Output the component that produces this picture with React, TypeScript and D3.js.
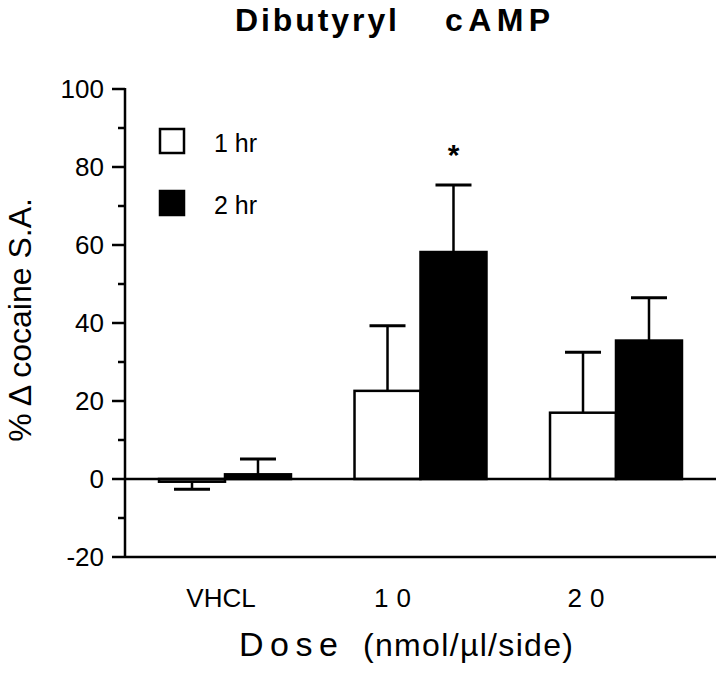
import React from "react";
import * as d3 from "d3";

const categories = ["VHCL", "10", "20"];
const seriesNames = ["1 hr", "2 hr"];
const hr1Means = [-0.7, 22.6, 17.0];
const hr1Sems = [1.9, 16.7, 15.5];
const hr2Means = [1.2, 58.2, 35.5];
const hr2Sems = [3.9, 17.2, 11.0];
const yTicks = [-20, 0, 20, 40, 60, 80, 100];
const yMinorTicks = [-10, 10, 30, 50, 70, 90];
const significantBars = ["10|2 hr"];

const W = 720;
const H = 676;
const left = 125;
const right = 716;
const top = 89;
const bottom = 557;
const FONT = "'Liberation Sans', Arial, Helvetica, sans-serif";

export default function App() {
  const y = d3.scaleLinear().domain([-20, 100]).range([bottom, top]);
  const x = d3
    .scaleBand<string>()
    .domain(categories)
    .range([left, right])
    .paddingInner(0.325)
    .paddingOuter(0.174);
  const xs = d3.scaleBand<string>().domain(seriesNames).range([0, x.bandwidth()]);

  const bars: any[] = [];
  categories.forEach((c, i) => {
    [
      { s: seriesNames[0], m: hr1Means[i], e: hr1Sems[i], fill: "#fff" },
      { s: seriesNames[1], m: hr2Means[i], e: hr2Sems[i], fill: "#000" },
    ].forEach((b) => {
      bars.push({ ...b, c, key: `${c}|${b.s}` });
    });
  });

  const tickLabelDx: Record<string, number> = { VHCL: -4, "10": -24, "20": -26 };

  return (
    <svg
      width={W}
      height={H}
      style={{ position: "absolute", left: 0, top: 0, background: "#fff" }}
      fontFamily={FONT}
    >
      {/* title */}
      <text x={235} y={31} fontSize={32} fontWeight="bold" textLength={162} lengthAdjust="spacing">
        Dibutyryl
      </text>
      <text x={445} y={31} fontSize={32} fontWeight="bold" textLength={105} lengthAdjust="spacing">
        cAMP
      </text>

      {/* bars */}
      {bars.map((b) => {
        const bx = (x(b.c) as number) + (xs(b.s) as number);
        const bw = xs.bandwidth();
        const y0 = y(0);
        const ym = y(b.m);
        const cx = bx + bw / 2;
        const dir = b.m >= 0 ? 1 : -1;
        const ye = y(b.m + dir * b.e);
        return (
          <g key={b.key}>
            <line x1={cx} x2={cx} y1={ym} y2={ye} stroke="#000" strokeWidth={2.5} />
            <line x1={cx - 18} x2={cx + 18} y1={ye} y2={ye} stroke="#000" strokeWidth={3} />
            <rect
              x={bx}
              y={Math.min(y0, ym)}
              width={bw}
              height={Math.abs(ym - y0)}
              fill={b.fill}
              stroke="#000"
              strokeWidth={2.5}
            />
            {significantBars.includes(b.key) && (
              <text x={cx} y={ye - 20} fontSize={30} fontWeight="bold" textAnchor="middle">
                *
              </text>
            )}
          </g>
        );
      })}

      {/* zero line */}
      <line x1={left} x2={right} y1={y(0)} y2={y(0)} stroke="#000" strokeWidth={2.5} />
      {/* bottom axis */}
      <line x1={left} x2={right} y1={y(-20)} y2={y(-20)} stroke="#000" strokeWidth={2.5} />
      {/* y axis */}
      <line x1={left} x2={left} y1={y(100) - 1} y2={y(-20) + 1} stroke="#000" strokeWidth={2.5} />
      {yTicks.map((t) => (
        <g key={t}>
          <line x1={left - 13} x2={left} y1={y(t)} y2={y(t)} stroke="#000" strokeWidth={2.5} />
          <text x={left - 21} y={y(t)} dy="0.36em" fontSize={26} textAnchor="end">
            {t}
          </text>
        </g>
      ))}
      {yMinorTicks.map((t) => (
        <line key={t} x1={left - 7} x2={left} y1={y(t)} y2={y(t)} stroke="#000" strokeWidth={2.5} />
      ))}

      {/* x tick labels */}
      {categories.map((c) => (
        <text
          key={c}
          x={(x(c) as number) + x.bandwidth() / 2 + tickLabelDx[c]}
          y={607}
          fontSize={26}
          textAnchor="middle"
          letterSpacing={c === "VHCL" ? 0 : 8}
        >
          {c}
        </text>
      ))}

      {/* axis titles */}
      <text x={239} y={656} fontSize={34} textLength={99} lengthAdjust="spacing">
        Dose
      </text>
      <text x={363} y={656} fontSize={32} textLength={210} lengthAdjust="spacing">
        (nmol/µl/side)
      </text>
      <text transform={`translate(31, 320) rotate(-90)`} fontSize={32} textAnchor="middle">
        % Δ cocaine S.A.
      </text>

      {/* legend */}
      {seriesNames.map((s, i) => (
        <g key={s}>
          <rect
            x={160}
            y={129 + i * 62}
            width={24}
            height={24}
            fill={i === 0 ? "#fff" : "#000"}
            stroke="#000"
            strokeWidth={2.5}
          />
          <text x={214} y={152 + i * 62} fontSize={25}>
            {s}
          </text>
        </g>
      ))}
    </svg>
  );
}
